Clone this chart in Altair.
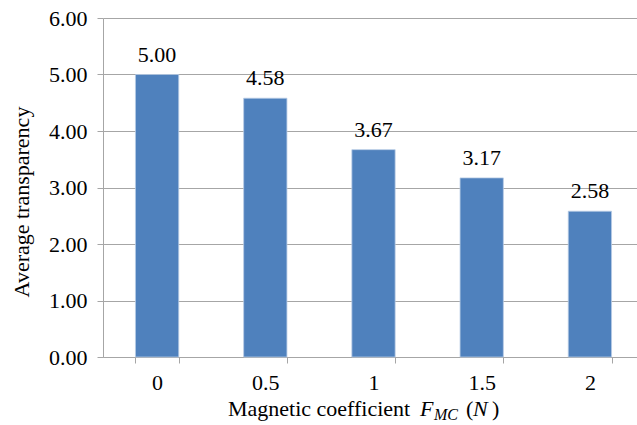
import altair as alt
import pandas as pd

# Magnetic coefficient F_MC (N) and the measured average transparency
coefficients = ["0", "0.5", "1", "1.5", "2"]
transparency = [5.00, 4.58, 3.67, 3.17, 2.58]
y_ticks = [0, 1, 2, 3, 4, 5, 6]

df = pd.DataFrame({"coef": coefficients, "value": transparency})

FONT = "serif"
FS = 22
GRID = "#a6a6a6"
BAR = "#4F81BD"

# plot area; the category scale runs a little past the right edge and is clipped there
W, H = 534, 339
X_RANGE = 541

x_enc = alt.X(
    "coef:N",
    sort=coefficients,
    scale=alt.Scale(paddingInner=0.6, paddingOuter=0.3, range=[0, X_RANGE]),
    axis=alt.Axis(
        title=None,
        labelAngle=0,
        labelFont=FONT,
        labelFontSize=FS,
        labelColor="#000000",
        labelPadding=9,
        tickBand="extent",
        tickSize=6,
        tickColor=GRID,
        domainColor=GRID,
        grid=False,
    ),
)
y_enc = alt.Y(
    "value:Q",
    scale=alt.Scale(domain=[0, 6], nice=False),
    axis=alt.Axis(
        title=None,
        values=y_ticks,
        format=".2f",
        labelFont=FONT,
        labelFontSize=FS,
        labelColor="#000000",
        labelPadding=10,
        tickSize=6,
        tickColor=GRID,
        domainColor=GRID,
        gridColor=GRID,
        gridWidth=1,
    ),
)

base = alt.Chart(df)

bars = base.mark_bar(color=BAR, stroke="#b8cce4", strokeWidth=0.8).encode(x=x_enc, y=y_enc)

values = base.mark_text(
    font=FONT, fontSize=FS, color="#000000", baseline="alphabetic", dy=-13
).encode(x=x_enc, y=y_enc, text=alt.Text("value:Q", format=".2f"))


def piece(text, x, y, size=FS, italic=False, angle=0, align="left", baseline="alphabetic"):
    props = dict(text=text, font=FONT, fontSize=size, color="#000000",
                 align=align, baseline=baseline)
    if italic:
        props["fontStyle"] = "italic"
    if angle:
        props["angle"] = angle
    return alt.Chart(pd.DataFrame({"k": [0]})).mark_text(**props).encode(
        x=alt.value(x), y=alt.value(y)
    )


# x-axis title: Magnetic coefficient F_MC (N)
title_y = 398
x_title = [
    piece("Magnetic coefficient", 125, title_y),
    piece("F", 317, title_y, italic=True),
    piece("MC", 331, title_y + 4, size=16, italic=True),
    piece("(", 363, title_y),
    piece("N", 370, title_y, italic=True),
    piece(")", 389, title_y),
]

# y-axis title
y_title = piece("Average transparency", -81, 184, angle=270, align="center", baseline="middle")

chart = alt.layer(bars, values, *x_title, y_title).properties(
    width=W,
    height=H,
    autosize=alt.AutoSizeParams(type="none"),
    padding={"left": 103, "top": 18, "right": 0, "bottom": 68},
    background="#ffffff",
).configure_view(stroke=None)

chart.save("out.html", embed_options={"renderer": "svg", "actions": False})
